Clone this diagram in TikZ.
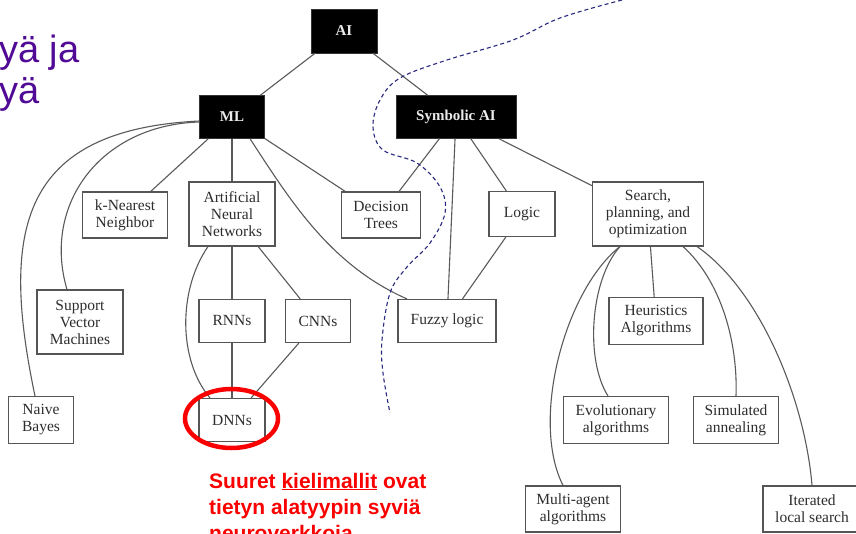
\documentclass[tikz,border=0pt]{standalone}
\usepackage{fontspec}
\usetikzlibrary{shapes.geometric}
\setmainfont{Liberation Serif}
\newfontfamily\arialf{Liberation Sans}
\definecolor{boxline}{RGB}{85,85,85}
\definecolor{boxtext}{RGB}{45,45,45}
\definecolor{edgecol}{RGB}{90,90,90}
\definecolor{dashblue}{RGB}{40,40,125}
\definecolor{purpletxt}{RGB}{80,10,150}
\definecolor{redtxt}{RGB}{250,0,0}
\tikzset{
  wbox/.style={draw=boxline, line width=1.1pt, fill=white, text=boxtext, align=center, inner sep=0pt,
    font=\fontsize{15.5}{17}\selectfont},
  bbox/.style={draw=black!80, fill=black, text=black!8, inner sep=0pt,
    font=\bfseries\fontsize{15}{17}\selectfont},
  edge/.style={draw=edgecol, line width=1.1pt},
  sepline/.style={draw=dashblue, line width=1.1pt, dash pattern=on 4pt off 3pt},
  redtext/.style={anchor=base west, inner sep=0pt, text=redtxt, font=\arialf\bfseries\fontsize{21}{26}\selectfont},
  purptext/.style={anchor=base west, inner sep=0pt, text=purpletxt, font=\arialf\fontsize{38}{41}\selectfont}
}
\begin{document}
\begin{tikzpicture}[x=1pt,y=-1pt]
\useasboundingbox (0,0) rectangle (856,534);
\clip (0,0) rectangle (856,534);
\fill[white] (0,0) rectangle (856,534);

% title fragments
\node[purptext] (t1) at (-1,63) {yä ja};
\node[purptext] (t2) at (-1,104) {yä};

% black boxes
\node[bbox, minimum width=66pt, minimum height=44pt] (AI) at (344,31) {AI};
\node[bbox, minimum width=65pt, minimum height=43pt] (ML) at (232,117) {ML};
\node[bbox, minimum width=120pt, minimum height=43pt] (SAI) at (456,117) {Symbolic AI};

% white boxes
\node[wbox, minimum width=85pt, minimum height=46pt] (KNN) at (125,215) {k-Nearest\\Neighbor};
\node[wbox, minimum width=86pt, minimum height=64pt] (ANN) at (232,214) {Artificial\\Neural\\Networks};
\node[wbox, minimum width=79pt, minimum height=46pt] (DT) at (381,215) {Decision\\Trees};
\node[wbox, minimum width=66pt, minimum height=45pt] (LOG) at (522,214) {Logic};
\node[wbox, minimum width=111pt, minimum height=64pt] (SPO) at (648,214) {Search,\\planning, and\\optimization};
\node[wbox, minimum width=86pt, minimum height=64pt] (SVM) at (80,322) {Support\\Vector\\Machines};
\node[wbox, minimum width=66pt, minimum height=43pt] (RNN) at (232,321) {RNNs};
\node[wbox, minimum width=65pt, minimum height=43pt] (CNN) at (318,321) {CNNs};
\node[wbox, minimum width=98pt, minimum height=43pt] (FUZ) at (447,321) {Fuzzy logic};
\node[wbox, minimum width=94pt, minimum height=47pt] (HEU) at (656,321) {Heuristics\\Algorithms};
\node[wbox, minimum width=65pt, minimum height=47pt] (NB) at (41,420) {Naive\\Bayes};
\node[wbox, minimum width=66pt, minimum height=43pt] (DNN) at (232,420) {DNNs};
\node[wbox, minimum width=105pt, minimum height=47pt] (EVO) at (616,420) {Evolutionary\\algorithms};
\node[wbox, minimum width=85pt, minimum height=47pt] (SIM) at (736,420) {Simulated\\annealing};
\node[wbox, minimum width=95pt, minimum height=46pt] (MAA) at (573,509) {Multi-agent\\algorithms};
\node[wbox, minimum width=98pt, minimum height=46pt] (ILS) at (812,509) {Iterated\\local search};

% straight connectors
\draw[edge] (AI) -- (ML);
\draw[edge] (AI) -- (SAI);
\draw[edge] (ML) -- (KNN);
\draw[edge] (ML) -- (ANN);
\draw[edge] (ML) -- (DT);
\draw[edge] (SAI) -- (DT);
\draw[edge] (SAI) -- (FUZ);
\draw[edge] (SAI) -- (LOG);
\draw[edge] (SAI) -- (SPO);
\draw[edge] (LOG) -- (FUZ);
\draw[edge] (ANN) -- (RNN);
\draw[edge] (ANN) -- (CNN);
\draw[edge] (RNN) -- (DNN);
\draw[edge] (CNN) -- (DNN);
\draw[edge] (SPO) -- (HEU);

% curved connectors
\draw[edge] ([yshift=-4pt]ML.west) .. controls (20,130) and (0,230) .. ([xshift=-6pt]NB.north);
\draw[edge] ([yshift=-5pt]ML.west) .. controls (100,125) and (42,205) .. ([xshift=-13pt]SVM.north);
\draw[edge] ([xshift=18pt]ML.south) .. controls (290,200) and (330,265) .. ([xshift=-40pt]FUZ.north);
\draw[edge] ([xshift=-24pt]ANN.south) .. controls (178,290) and (178,360) .. ([xshift=-22pt]DNN.north);
\draw[edge] ([xshift=-28pt]SPO.south) .. controls (565,290) and (530,420) .. ([xshift=-10pt]MAA.north);
\draw[edge] ([xshift=-28pt]SPO.south) .. controls (590,280) and (585,360) .. ([xshift=-8pt]EVO.north);
\draw[edge] ([xshift=35pt]SPO.south) .. controls (720,280) and (738,340) .. (SIM.north);
\draw[edge] ([xshift=49pt]SPO.south) .. controls (760,290) and (805,400) .. (ILS.north);

% dashed separator
\draw[sepline] plot[smooth, tension=0.6] coordinates {(622,0) (560,18) (513,40) (447,60) (400,78) (380,100) (373,127) (383,150) (417,163) (440,187) (445,213) (430,243) (407,267) (390,293) (382,340) (383,373) (390,413)};

% red highlight
\node[draw=redtxt, line width=4.5pt, ellipse, minimum width=93pt, minimum height=59pt, inner sep=0pt] (HL) at (231.5,418.5) {};
\node[redtext] (r1) at (209,488) {Suuret \underline{kielimallit} ovat};
\node[redtext] (r2) at (209,514) {tietyn alatyypin syviä};
\node[redtext] (r3) at (209,540) {neuroverkkoja};
\end{tikzpicture}
\end{document}
